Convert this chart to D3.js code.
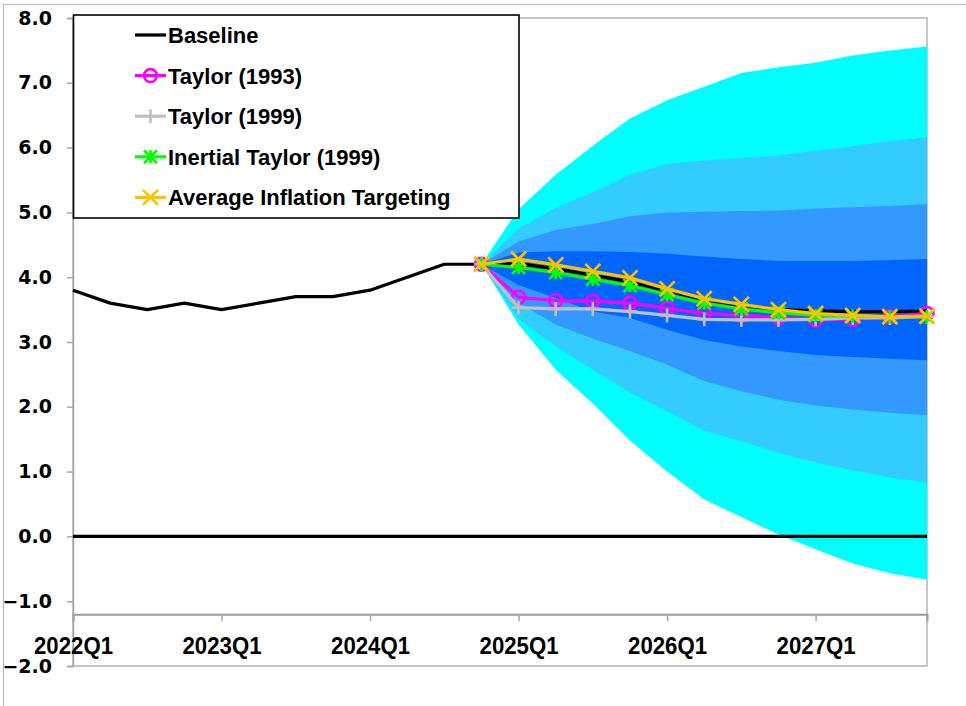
<!DOCTYPE html>
<html>
<head>
<meta charset="utf-8">
<script src="https://cdn.jsdelivr.net/npm/d3@7"></script>
<style>
  body { margin: 0; background: #fff; }
  svg { display: block; }
</style>
</head>
<body>
<svg id="chart" width="966" height="706"></svg>
<script>
// ---------------- DATA ----------------
const quarters = ["2022Q1","2022Q2","2022Q3","2022Q4","2023Q1","2023Q2","2023Q3","2023Q4",
                  "2024Q1","2024Q2","2024Q3","2024Q4","2025Q1","2025Q2","2025Q3","2025Q4",
                  "2026Q1","2026Q2","2026Q3","2026Q4","2027Q1","2027Q2","2027Q3","2027Q4"];
const xTickLabels = ["2022Q1","2023Q1","2024Q1","2025Q1","2026Q1","2027Q1"];
const yTicks = [-2, -1, 0, 1, 2, 3, 4, 5, 6, 7, 8];

// history (2022Q1 .. 2024Q4)
const historyQuarters = quarters.slice(0, 12);
const baselineHistory = [3.8, 3.6, 3.5, 3.6, 3.5, 3.6, 3.7, 3.7, 3.8, 4.0, 4.2, 4.2];

// forecast (2024Q4 .. 2027Q4)
const forecastQuarters = quarters.slice(11);
const baselineForecast = [4.2, 4.21, 4.13, 4.03, 3.93, 3.79, 3.65, 3.56, 3.50, 3.48, 3.47, 3.47, 3.48];
const taylor1993       = [4.2, 3.69, 3.64, 3.63, 3.60, 3.52, 3.44, 3.41, 3.38, 3.34, 3.35, 3.39, 3.44];
const taylor1999       = [4.2, 3.53, 3.51, 3.51, 3.47, 3.41, 3.35, 3.34, 3.34, 3.35, 3.37, 3.37, 3.39];
const inertialTaylor   = [4.2, 4.15, 4.07, 3.97, 3.87, 3.73, 3.60, 3.51, 3.45, 3.41, 3.40, 3.39, 3.39];
const avgInflTarget    = [4.2, 4.28, 4.19, 4.09, 3.99, 3.82, 3.67, 3.58, 3.50, 3.44, 3.41, 3.39, 3.40];

// fan bands (lower / upper bounds)
const band4Upper = [4.2, 5.05, 5.58, 6.03, 6.45, 6.73, 6.94, 7.15, 7.24, 7.31, 7.42, 7.50, 7.56];
const band3Upper = [4.2, 4.75, 5.07, 5.31, 5.58, 5.75, 5.80, 5.84, 5.88, 5.95, 6.02, 6.10, 6.16];
const band2Upper = [4.2, 4.55, 4.73, 4.82, 4.94, 5.00, 5.01, 5.02, 5.03, 5.06, 5.08, 5.10, 5.13];
const band1Upper = [4.2, 4.38, 4.40, 4.40, 4.39, 4.36, 4.32, 4.28, 4.25, 4.25, 4.25, 4.26, 4.28];
const band1Lower = [4.2, 3.88, 3.68, 3.47, 3.37, 3.19, 3.03, 2.93, 2.86, 2.80, 2.77, 2.74, 2.72];
const band2Lower = [4.2, 3.60, 3.27, 3.05, 2.86, 2.65, 2.40, 2.24, 2.11, 2.02, 1.96, 1.91, 1.87];
const band3Lower = [4.2, 3.35, 2.93, 2.57, 2.22, 1.93, 1.63, 1.47, 1.29, 1.14, 1.02, 0.91, 0.83];
const band4Lower = [4.2, 3.27, 2.57, 2.05, 1.48, 1.00, 0.57, 0.30, 0.03, -0.20, -0.42, -0.57, -0.67];

const zeroLine = quarters.map(() => 0);

const legendNames = ["Baseline", "Taylor (1993)", "Taylor (1999)", "Inertial Taylor (1999)", "Average Inflation Targeting"];

// ---------------- CHART ----------------
const svg = d3.select("#chart");
const x = d3.scalePoint().domain(quarters).range([73, 927]);
const y = d3.scaleLinear().domain([-2, 8]).range([666, 18]);
const xAxisValue = -1.2;

// chart area border (partly cropped)
svg.append("rect").attr("x", 3.5).attr("y", 4.5).attr("width", 1200).attr("height", 1200)
  .attr("fill", "none").attr("stroke", "#bdbdbd").attr("stroke-width", 1.2);

// plot area border
svg.append("rect").attr("x", 73).attr("y", 18).attr("width", 927 - 73).attr("height", 666 - 18)
  .attr("fill", "none").attr("stroke", "#b4b4b4").attr("stroke-width", 1.5);

// fan bands
const bands = [
  {lo: band4Lower, hi: band4Upper, color: "#00FFFF"},
  {lo: band3Lower, hi: band3Upper, color: "#33CCFF"},
  {lo: band2Lower, hi: band2Upper, color: "#3399FF"},
  {lo: band1Lower, hi: band1Upper, color: "#0066FF"}
];
bands.forEach(b => {
  const area = d3.area()
    .x((d, i) => x(forecastQuarters[i]))
    .y0((d, i) => y(b.lo[i]))
    .y1((d, i) => y(b.hi[i]));
  svg.append("path").datum(b.lo).attr("d", area).attr("fill", b.color);
});

// y axis
const yAxis = d3.axisLeft(y).tickValues(yTicks).tickFormat(d3.format(".1f")).tickSize(6).tickPadding(15);
const yG = svg.append("g").attr("transform", "translate(73,0)").call(yAxis);
yG.select(".domain").attr("stroke", "#a6a6a6").attr("stroke-width", 1.5);
yG.selectAll(".tick line").attr("stroke", "#a6a6a6").attr("stroke-width", 1.5);
yG.selectAll(".tick text").attr("font-family", "DejaVu Sans, Verdana, sans-serif")
  .attr("font-weight", "bold").attr("font-size", "19px").attr("fill", "#000");

// x axis (crossing at -1.2)
const xAxis = d3.axisBottom(x).tickValues(xTickLabels).tickSize(7).tickPadding(17);
const xG = svg.append("g").attr("transform", `translate(0,${y(xAxisValue)})`).call(xAxis);
xG.select(".domain").attr("stroke", "#9a9a9a").attr("stroke-width", 2);
xG.selectAll(".tick line").attr("stroke", "#a6a6a6").attr("stroke-width", 1.5);
xG.selectAll(".tick text").attr("font-family", "Liberation Sans, Arial, sans-serif")
  .attr("font-weight", "bold").attr("font-size", "23px").attr("fill", "#000")
  .attr("textLength", 79).attr("lengthAdjust", "spacingAndGlyphs");

// zero line
svg.append("path").datum(zeroLine)
  .attr("d", d3.line().x((d, i) => x(quarters[i])).y(d => y(d)))
  .attr("fill", "none").attr("stroke", "#000").attr("stroke-width", 3.2);

// baseline
const lineHist = d3.line().x((d, i) => x(historyQuarters[i])).y(d => y(d));
const lineFc = d3.line().x((d, i) => x(forecastQuarters[i])).y(d => y(d));
svg.append("path").datum(baselineHistory).attr("d", lineHist)
  .attr("fill", "none").attr("stroke", "#000").attr("stroke-width", 3.2).attr("stroke-linejoin", "round");
svg.append("path").datum(baselineForecast).attr("d", lineFc)
  .attr("fill", "none").attr("stroke", "#000").attr("stroke-width", 3.2).attr("stroke-linejoin", "round");

// marker drawing helpers
function drawMarker(g, type, color, cx, cy) {
  if (type === "circle") {
    g.append("circle").attr("cx", cx).attr("cy", cy).attr("r", 6.5)
      .attr("fill", "none").attr("stroke", color).attr("stroke-width", 2.6);
  } else if (type === "plus") {
    const s = 7;
    g.append("path").attr("d", `M${cx - s},${cy}H${cx + s}M${cx},${cy - s}V${cy + s}`)
      .attr("stroke", color).attr("stroke-width", 2.6).attr("fill", "none");
  } else if (type === "star") {
    const s = 6.5;
    g.append("path").attr("d",
      `M${cx - s},${cy - s}L${cx + s},${cy + s}M${cx - s},${cy + s}L${cx + s},${cy - s}M${cx},${cy - s}V${cy + s}`)
      .attr("stroke", color).attr("stroke-width", 2.7).attr("fill", "none");
  } else if (type === "x") {
    const s = 7.5;
    g.append("path").attr("d",
      `M${cx - s},${cy - s}L${cx + s},${cy + s}M${cx - s},${cy + s}L${cx + s},${cy - s}`)
      .attr("stroke", color).attr("stroke-width", 2.7).attr("fill", "none");
  }
}

const seriesList = [
  {values: taylor1993, color: "#FF00FF", marker: "circle"},
  {values: taylor1999, color: "#C0C0C0", marker: "plus"},
  {values: inertialTaylor, color: "#00FF00", marker: "star"},
  {values: avgInflTarget, color: "#FFC000", marker: "x"}
];
seriesList.forEach(s => {
  const g = svg.append("g");
  g.append("path").datum(s.values).attr("d", lineFc)
    .attr("fill", "none").attr("stroke", s.color).attr("stroke-width", 3.2).attr("stroke-linejoin", "round");
  s.values.forEach((v, i) => drawMarker(g, s.marker, s.color, x(forecastQuarters[i]), y(v)));
});

// legend
const leg = svg.append("g");
leg.append("rect").attr("x", 73.5).attr("y", 15).attr("width", 519 - 73.5).attr("height", 218 - 15)
  .attr("fill", "#fff").attr("stroke", "#000").attr("stroke-width", 1.6);
const legendItems = [
  {name: legendNames[0], color: "#000", marker: null},
  {name: legendNames[1], color: "#FF00FF", marker: "circle"},
  {name: legendNames[2], color: "#C0C0C0", marker: "plus"},
  {name: legendNames[3], color: "#00FF00", marker: "star"},
  {name: legendNames[4], color: "#FFC000", marker: "x"}
];
legendItems.forEach((it, i) => {
  const cy = 35 + i * 40.6;
  const g = leg.append("g");
  g.append("line").attr("x1", 135).attr("x2", 166).attr("y1", cy).attr("y2", cy)
    .attr("stroke", it.color).attr("stroke-width", 3.2);
  if (it.marker) drawMarker(g, it.marker, it.color, 150.5, cy);
  g.append("text").attr("x", 168).attr("y", cy).attr("dy", "0.36em")
    .attr("font-family", "Liberation Sans, Arial, sans-serif").attr("font-weight", "bold")
    .attr("font-size", "22px").attr("fill", "#000").text(it.name);
});
</script>
</body>
</html>
